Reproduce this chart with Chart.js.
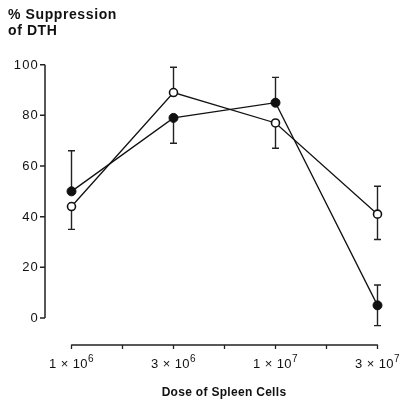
<!DOCTYPE html>
<html>
<head>
<meta charset="utf-8">
<script src="https://cdn.jsdelivr.net/npm/chart.js@4"></script>
<style>
  html, body { margin: 0; padding: 0; background: #fff; }
  canvas { display: block; }
</style>
</head>
<body>
<canvas id="dth-chart" width="407" height="412"></canvas>
<script>
// Dose groups and their axis labels (mantissa x 10^exponent)
const doses = ['1e6', '3e6', '1e7', '3e7'];
const doseMantissa = ['1', '3', '1', '3'];
const doseExponent = ['6', '6', '7', '7'];
const yTicks = [0, 20, 40, 60, 80, 100];

// Filled circles
const filledMean = [50, 79, 85, 5];
const filledHigh = [66, null, 95, 13];
const filledLow = [null, 69, null, -3];

// Open circles
const openMean = [44, 89, 77, 41];
const openHigh = [null, 99, null, 52];
const openLow = [35, null, 67, 31];

const FONT = '"Liberation Sans", Arial, Helvetica, sans-serif';

// Detached axes, error bars and titles, drawn under the data lines
const figureAxes = {
  id: 'figureAxes',
  beforeDatasetsDraw(chart) {
    const { ctx, chartArea } = chart;
    const x = chart.scales.x;
    const y = chart.scales.y;
    ctx.save();
    ctx.strokeStyle = '#222';
    ctx.fillStyle = '#111';
    ctx.lineWidth = 1.5;

    // y axis
    const axisX = chartArea.left - 26.5;
    ctx.beginPath();
    ctx.moveTo(axisX, y.getPixelForValue(0));
    ctx.lineTo(axisX, y.getPixelForValue(100));
    yTicks.forEach(t => {
      const py = y.getPixelForValue(t);
      ctx.moveTo(axisX, py);
      ctx.lineTo(axisX - 5, py);
    });
    ctx.stroke();
    ctx.font = '13px ' + FONT;
    ctx.letterSpacing = '1.2px';
    ctx.textAlign = 'right';
    ctx.textBaseline = 'middle';
    yTicks.forEach(t => ctx.fillText(String(t), axisX - 6, y.getPixelForValue(t) + 0.5));

    // x axis
    const axisY = chartArea.bottom + 27;
    ctx.lineWidth = 1.3;
    ctx.beginPath();
    ctx.moveTo(x.getPixelForValue(0), axisY);
    ctx.lineTo(x.getPixelForValue(doses.length - 1), axisY);
    for (let i = 0; i <= doses.length - 1; i += 0.5) {
      const px = x.getPixelForValue(i);
      ctx.moveTo(px, axisY - 0.5);
      ctx.lineTo(px, axisY + 4);
    }
    ctx.stroke();
    doses.forEach((d, i) => {
      const base = doseMantissa[i] + ' \u00d7 10';
      ctx.font = '13px ' + FONT;
      ctx.letterSpacing = '0.4px';
      const wBase = ctx.measureText(base).width;
      ctx.font = '10px ' + FONT;
      const wExp = ctx.measureText(doseExponent[i]).width;
      const left = x.getPixelForValue(i) - (wBase + wExp) / 2;
      ctx.textAlign = 'left';
      ctx.textBaseline = 'alphabetic';
      ctx.font = '13px ' + FONT;
      ctx.fillText(base, left, axisY + 23);
      ctx.font = '10px ' + FONT;
      ctx.fillText(doseExponent[i], left + wBase, axisY + 17);
    });

    // titles
    ctx.letterSpacing = '0.6px';
    ctx.font = 'bold 14px ' + FONT;
    ctx.textAlign = 'left';
    ctx.textBaseline = 'middle';
    ctx.fillText('% Suppression', 8, 15);
    ctx.fillText('of DTH', 8, 31);
    ctx.letterSpacing = '0.3px';
    ctx.font = 'bold 12px ' + FONT;
    ctx.textAlign = 'center';
    ctx.fillText('Dose of Spleen Cells', 224, 393);

    // error bars
    ctx.letterSpacing = '0px';
    ctx.lineWidth = 1.4;
    const stem = (i, from, to) => {
      if (to === null) return;
      const px = x.getPixelForValue(i);
      const py = y.getPixelForValue(to);
      ctx.beginPath();
      ctx.moveTo(px, y.getPixelForValue(from));
      ctx.lineTo(px, py);
      ctx.moveTo(px - 3.5, py);
      ctx.lineTo(px + 3.5, py);
      ctx.stroke();
    };
    doses.forEach((d, i) => {
      stem(i, filledMean[i], filledHigh[i]);
      stem(i, filledMean[i], filledLow[i]);
      stem(i, openMean[i], openHigh[i]);
      stem(i, openMean[i], openLow[i]);
    });
    ctx.restore();
  }
};

new Chart(document.getElementById('dth-chart'), {
  type: 'line',
  data: {
    labels: doses,
    datasets: [
      {
        label: 'filled',
        data: filledMean,
        borderColor: '#111',
        borderWidth: 1.3,
        pointRadius: 4.5,
        pointBackgroundColor: '#111',
        pointBorderColor: '#111',
        pointBorderWidth: 1,
        tension: 0
      },
      {
        label: 'open',
        data: openMean,
        borderColor: '#111',
        borderWidth: 1.3,
        pointRadius: 4,
        pointBackgroundColor: '#fff',
        pointBorderColor: '#111',
        pointBorderWidth: 1.6,
        tension: 0
      }
    ]
  },
  options: {
    responsive: false,
    animation: false,
    clip: false,
    layout: {
      padding: { left: 71.5, right: 29.5, top: 64.7, bottom: 94 }
    },
    plugins: {
      legend: { display: false },
      tooltip: { enabled: false }
    },
    scales: {
      x: { type: 'category', offset: false, display: false },
      y: { min: 0, max: 100, display: false }
    }
  },
  plugins: [figureAxes]
});
</script>
</body>
</html>
